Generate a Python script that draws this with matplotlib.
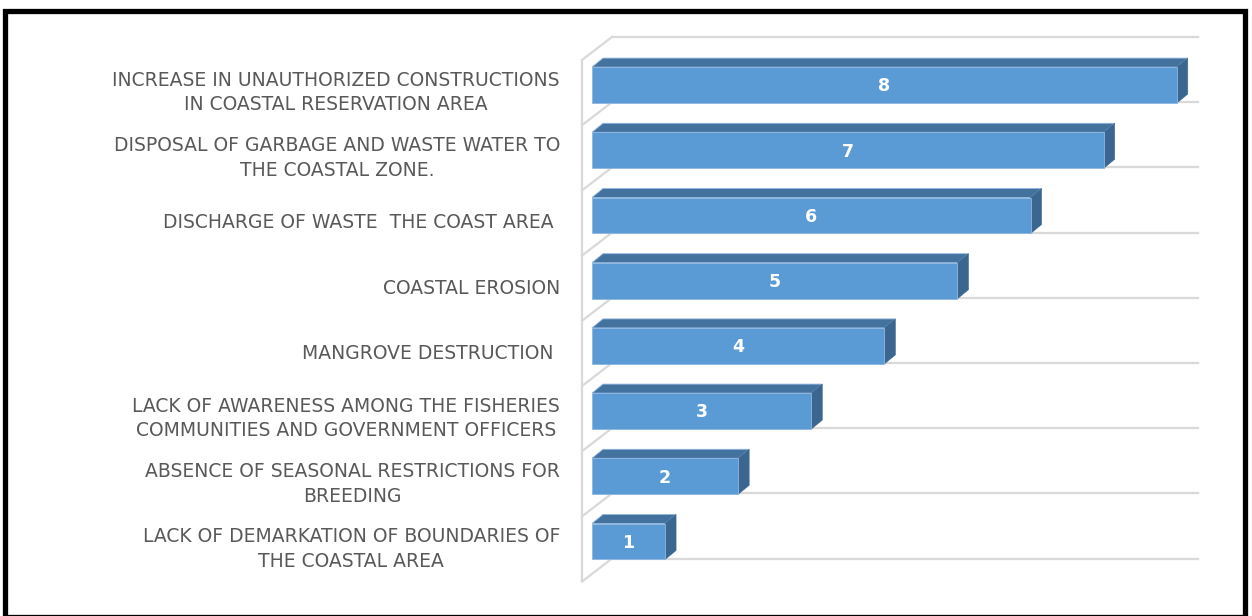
import matplotlib
matplotlib.use('Agg')
from matplotlib import pyplot
from matplotlib.patches import Polygon, Rectangle
import numpy as np

matplotlib.rcParams['font.family'] = 'DejaVu Sans'

# categories, top of chart first
labels = [
    'INCREASE IN UNAUTHORIZED CONSTRUCTIONS\nIN COASTAL RESERVATION AREA',
    'DISPOSAL OF GARBAGE AND WASTE WATER TO\nTHE COASTAL ZONE.',
    'DISCHARGE OF WASTE  THE COAST AREA ',
    'COASTAL EROSION',
    'MANGROVE DESTRUCTION ',
    'LACK OF AWARENESS AMONG THE FISHERIES\nCOMMUNITIES AND GOVERNMENT OFFICERS',
    'ABSENCE OF SEASONAL RESTRICTIONS FOR\nBREEDING',
    'LACK OF DEMARKATION OF BOUNDARIES OF\nTHE COASTAL AREA',
]
values = [8, 7, 6, 5, 4, 3, 2, 1]

FRONT = '#5B9BD5'
TOP = '#44729F'
SIDE = '#3A6690'
EDGE = '#8FB6E0'
GRID = '#D9D9D9'
TEXT = '#595959'

# pixel scale of the plot: value 0 at x=592, 73.1 px per unit; bottom row at y=541.5, 65.2 px per row
W, H = 1252, 616
X0, UX = 592.0, 73.1
Y0, UY = 541.5, 65.2

BAR_H = 0.276          # half height of a bar (rows)
BDX, BDY = 0.15, 0.138 # bar depth
WDX, WDY = 0.41, 0.353 # wall depth
GRID0 = -0.615         # first floor line (rows)
WALL_X = -0.137
XMAX = 8.29

fig = pyplot.figure(figsize=(W / 100, H / 100), dpi=100)
ax = fig.add_axes([0, 0, 1, 1])
ax.set_xlim(-X0 / UX, (W - X0) / UX)
ax.set_ylim((Y0 - H) / UY, Y0 / UY)
ax.axis('off')

n = len(values)
pos = np.arange(n)[::-1]   # first label at top

# wall and floor lines
ax.plot([WALL_X, WALL_X], [GRID0, GRID0 + n], color=GRID, lw=1.6, solid_capstyle='butt')
for k in range(n + 1):
    yy = GRID0 + k
    ax.plot([WALL_X, WALL_X + WDX], [yy, yy + WDY], color=GRID, lw=1.6)
    ax.plot([WALL_X + WDX, XMAX], [yy + WDY, yy + WDY], color=GRID, lw=1.6)

# 3d bars
for p, v in zip(pos, values):
    y0, y1 = p - BAR_H, p + BAR_H
    top = Polygon([(0, y1), (v, y1), (v + BDX, y1 + BDY), (BDX, y1 + BDY)],
                  closed=True, facecolor=TOP, edgecolor=EDGE, lw=0.6, zorder=3)
    side = Polygon([(v, y0), (v + BDX, y0 + BDY), (v + BDX, y1 + BDY), (v, y1)],
                   closed=True, facecolor=SIDE, edgecolor=SIDE, lw=0.4, zorder=3)
    front = Rectangle((0, y0), v, y1 - y0, facecolor=FRONT, edgecolor=EDGE, lw=0.6, zorder=4)
    ax.add_patch(top)
    ax.add_patch(side)
    ax.add_patch(front)
    ax.text(v / 2, p - 0.02, str(v), color='white', fontsize=12.5, fontweight='bold',
            ha='center', va='center', zorder=5)

# category labels
for p, lab in zip(pos, labels):
    ax.text(-32 / UX, p - 0.115, lab, color=TEXT, fontsize=13.5, ha='right', va='center',
            multialignment='center', linespacing=1.38)

# outer frame
fig.patches.append(Rectangle((4.5 / W, -1 / H), 1240 / W, 606.5 / H, transform=fig.transFigure,
                             fill=False, edgecolor='black', lw=3.8, zorder=10))

fig.savefig('out.png', dpi=100)
